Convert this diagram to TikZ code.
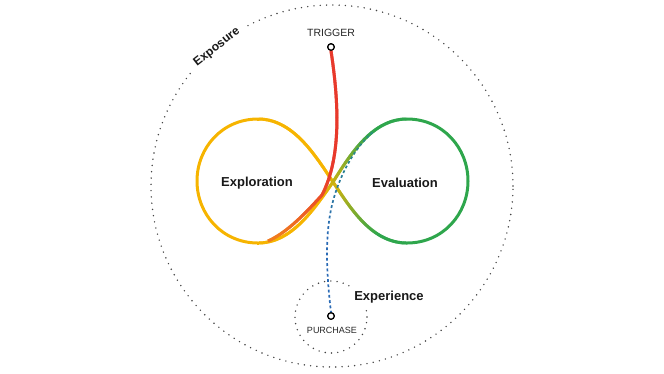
\documentclass[tikz,border=0pt]{standalone}
\usepackage{fontspec}
\setmainfont{Liberation Sans}
\usetikzlibrary{decorations.markings}
\definecolor{cyel}{HTML}{F6B400}
\definecolor{cgrn}{HTML}{2EA64C}
\definecolor{cred}{HTML}{E8392B}
\definecolor{corg}{HTML}{F07B1E}
\definecolor{cblu}{HTML}{2A6AB5}
\definecolor{cteal}{HTML}{2A917A}
\definecolor{cdot}{HTML}{444444}
\tikzset{
  gradline/.style n args={4}{decoration={markings,
      mark=between positions 0 and 1 step 0.7pt with {%
        \pgfmathtruncatemacro\gmix{max(0,min(100,100*(\pgfkeysvalueof{/pgf/decoration/mark info/distance from start}/\pgfdecoratedpathlength-#3)/(#4-#3)))}%
        \draw[line width=3pt,color=#2!\gmix!#1] (-0.6pt,0)--(0.6pt,0);}},
    postaction={decorate}},
  graddash/.style n args={4}{decoration={markings,
      mark=between positions 0 and 1 step 5.3pt with {%
        \pgfmathtruncatemacro\gmix{max(0,min(100,100*(\pgfkeysvalueof{/pgf/decoration/mark info/distance from start}/\pgfdecoratedpathlength-#3)/(#4-#3)))}%
        \draw[line width=1.7pt,color=#2!\gmix!#1] (-1.4pt,0)--(1.4pt,0);}},
    postaction={decorate}},
  dotcircle/.style={draw=cdot, line width=1.6pt, line cap=round, dash pattern=on 0pt off 6.3pt},
  lobe/.style={draw=#1, line width=3pt},
  marker/.style={circle, draw=black, fill=white, line width=1.2pt, minimum size=6.5pt, inner sep=0pt},
  biglabel/.style={font=\bfseries\fontsize{13}{15}\selectfont, text=black!90},
  caplabel/.style={font=\fontsize{#1}{12}\selectfont, text=black!85},
}
\begin{document}
\begin{tikzpicture}[x=1pt,y=-1pt]
\useasboundingbox (0,0) rectangle (664,373);
% dotted circles
\draw[dotcircle] (332,186) circle[radius=181pt];
\draw[dotcircle] (331,317) circle[radius=36pt];
% crossing point
\coordinate (C) at (333,182);
% lobes
\draw[lobe=cyel] (258,119) .. controls (222,119) and (197,148) .. (197,181)
                          .. controls (197,214) and (222,243) .. (258,243);
\draw[lobe=cgrn] (407,119) .. controls (443,119) and (468,148) .. (468,181)
                          .. controls (468,214) and (443,243) .. (407,243);
\path[gradline={cyel}{cgrn}{0.45}{0.85}] (258,119) .. controls (293,119) and (315,155) .. (C)
      .. controls (351,209) and (372,243) .. (407,243);
\path[gradline={cyel}{cgrn}{0.4}{0.8}] (258,243) .. controls (292,243) and (314,209) .. (C)
      .. controls (350,155) and (372,119) .. (407,119);
% markers
\node[marker] (trig) at (331,47) {};
\node[marker] (purch) at (331,316) {};
\coordinate (redend) at (268,241);
\coordinate (bluend) at (373,132);
% trigger curve
\path[gradline={cred}{corg}{0.55}{0.95}] (trig.south) .. controls (340,110) and (340,160) .. (322,195)
      .. controls (303,216) and (286,233) .. (redend);
% purchase curve
\path[graddash={cblu}{cteal}{0.4}{1}] (purch.north) .. controls (326,270) and (325,235) .. (332,205)
      .. controls (338,180) and (352,150) .. (bluend);
\node[marker] at (trig) {};
\node[marker] at (purch) {};
% labels
\node[caplabel=10.5] (tl) at (331,33) {TRIGGER};
\node[caplabel=9] (pl) at (332,330) {PURCHASE};
\node[biglabel] (exl) at (257,183) {Exploration};
\node[biglabel] (evl) at (405,183) {Evaluation};
\node[biglabel, fill=white, inner sep=4pt] (xpl) at (389,297) {Experience};
\node[biglabel, font=\bfseries\fontsize{12}{14}\selectfont, fill=white, inner xsep=8pt, inner ysep=4pt, rotate=38] (xps) at (217,47) {Exposure};
\end{tikzpicture}
\end{document}
